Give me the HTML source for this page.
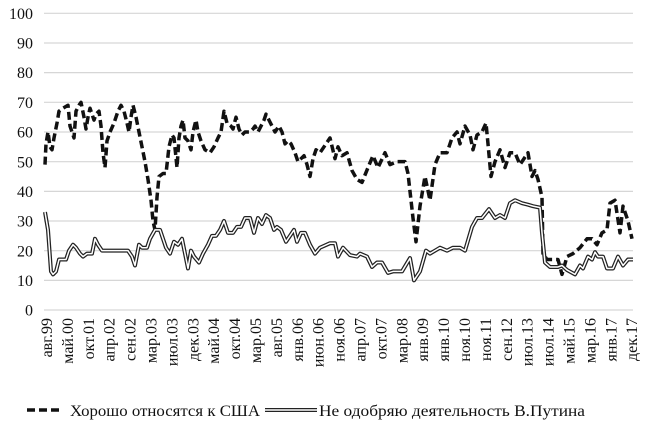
<!DOCTYPE html>
<html><head><meta charset="utf-8"><style>
html,body{margin:0;padding:0;background:#fff;}
svg{display:block;}
</style></head><body>
<svg width="650" height="429" viewBox="0 0 650 429" xmlns="http://www.w3.org/2000/svg" font-family="'Liberation Serif','Times New Roman',serif">
<g stroke="#d6d6d6" stroke-width="1.2">
<line x1="44" x2="633" y1="13.3" y2="13.3"/>
<line x1="44" x2="633" y1="43" y2="43"/>
<line x1="44" x2="633" y1="72.6" y2="72.6"/>
<line x1="44" x2="633" y1="102.3" y2="102.3"/>
<line x1="44" x2="633" y1="132" y2="132"/>
<line x1="44" x2="633" y1="161.7" y2="161.7"/>
<line x1="44" x2="633" y1="191.4" y2="191.4"/>
<line x1="44" x2="633" y1="221" y2="221"/>
<line x1="44" x2="633" y1="250.7" y2="250.7"/>
<line x1="44" x2="633" y1="280.4" y2="280.4"/>
<line x1="44" x2="633" y1="310" y2="310"/>
</g>
<g font-size="16" text-anchor="end" fill="#111" font-family="'Liberation Serif','Times New Roman',serif">
<text x="33" y="19">100</text><text x="33" y="48.5">90</text><text x="33" y="78.2">80</text>
<text x="33" y="107.9">70</text><text x="33" y="137.6">60</text><text x="33" y="167.3">50</text>
<text x="33" y="197">40</text><text x="33" y="226.6">30</text><text x="33" y="256.3">20</text>
<text x="33" y="286">10</text><text x="33" y="315.6">0</text>
</g>
<g font-size="16" text-anchor="end" fill="#111" font-family="'Liberation Serif','Times New Roman',serif">
<text transform="translate(52,318) rotate(-90)">авг.99</text>
<text transform="translate(72.9,318) rotate(-90)">май.00</text>
<text transform="translate(93.8,318) rotate(-90)">окт.01</text>
<text transform="translate(114.7,318) rotate(-90)">апр.02</text>
<text transform="translate(135.6,318) rotate(-90)">сен.02</text>
<text transform="translate(156.5,318) rotate(-90)">мар.03</text>
<text transform="translate(177.4,318) rotate(-90)">июл.03</text>
<text transform="translate(198.3,318) rotate(-90)">дек.03</text>
<text transform="translate(219.2,318) rotate(-90)">май.04</text>
<text transform="translate(240.1,318) rotate(-90)">окт.04</text>
<text transform="translate(261,318) rotate(-90)">мар.05</text>
<text transform="translate(281.9,318) rotate(-90)">авг.05</text>
<text transform="translate(302.8,318) rotate(-90)">янв.06</text>
<text transform="translate(323.7,318) rotate(-90)">июн.06</text>
<text transform="translate(344.6,318) rotate(-90)">ноя.06</text>
<text transform="translate(365.5,318) rotate(-90)">апр.07</text>
<text transform="translate(386.4,318) rotate(-90)">окт.07</text>
<text transform="translate(407.3,318) rotate(-90)">мар.08</text>
<text transform="translate(428.2,318) rotate(-90)">янв.09</text>
<text transform="translate(449.1,318) rotate(-90)">янв.10</text>
<text transform="translate(470,318) rotate(-90)">ноя.10</text>
<text transform="translate(490.9,318) rotate(-90)">ноя.11</text>
<text transform="translate(511.8,318) rotate(-90)">сен.12</text>
<text transform="translate(532.7,318) rotate(-90)">июл.13</text>
<text transform="translate(553.6,318) rotate(-90)">июл.14</text>
<text transform="translate(574.5,318) rotate(-90)">май.15</text>
<text transform="translate(595.4,318) rotate(-90)">мар.16</text>
<text transform="translate(616.3,318) rotate(-90)">янв.17</text>
<text transform="translate(637.2,318) rotate(-90)">дек.17</text>
</g>
<g transform="translate(0,310) scale(1,-2.967)" fill="none" stroke-linejoin="round">
<polyline vector-effect="non-scaling-stroke" stroke="#111" stroke-width="3.5" stroke-dasharray="8,4" points="45,49 46,56 48,60 50,55 52,54 54,58 57,63 59,67 63,68 68,69 70,62 74,58 76,67 79,69 81,70 84,65 86,61 88,65 90,68 92,66 94,64 96,66 99,67 101,62 103,53 105,48 107,57 110,60 114,63 118,67 121,69 124,67 127,63 129,60 131,65 133,69 136,65 139,60 142,55 145,50 148,44 151,37 153,30 155,27 157,38 159,45 163,46 166,46 169,55 172,59 174,58 177,48 179,58 181,62 183,64 185,58 188,57 191,54 193,60 196,64 198,60 201,57 205,54 210,53 214,55 218,58 221,60 224,67 227,63 231,62 233,61 236,65 239,61 242,59 245,60 250,60 253,61 255,62 258,60 261,62 264,64 266,66 269,64 272,62 275,60 279,62 282,60 285,56 288,57 291,56 295,53 298,50 301,51 304,52 307,49 310,45 313,51 316,54 320,53 330,58 335,51 338,55 342,52 347,53 352,47 357,44 362,43 368,48 373,52 378,48 385,53 390,49 397,50 405,50 408,46 413,31 416,23 420,35 425,45 430,37 435,49 440,53 447,53 452,58 457,60 460,56 465,62 470,59 473,54 477,59 482,60 486,63 488,56 491,45 495,50 500,54 505,48 510,53 515,53 520,49 528,53 532,45 535,47 538,44 542,38 543,19 547,17 553,17 558,17 562,12 567,18 573,19 580,21 587,24 592,24 597,22 602,26 607,27 610,36 615,37 620,26 623,35 628,30 632,24"/>
<polyline vector-effect="non-scaling-stroke" stroke="#222" stroke-width="4" points="45,33 48,27 51,13 53,12 56,13 59,17 66,17 69,20 73,22 76,21 80,19 83,18 87,19 92,19 95,24 98,22 102,20 128,20 132,18 135,15 139,22 142,21 147,21 150,24 155,27 160,27 163,24 166,21 170,19 174,23 178,22 182,24 185,19 188,14 191,20 194,18 199,16 203,19 208,22 212,25 216,25 220,27 224,30 228,26 233,26 237,28 241,28 245,31 250,31 254,26 258,31 262,29 266,32 270,31 274,27 277,28 281,27 286,23 290,25 294,27 297,23 301,26 305,26 310,22 315,19 320,21 330,22.5 335,22.5 338,18 343,21 350,18.5 357,18 360,19 367,18 372,14.5 377,16 382,16 388,12.5 393,13 402,13 410,17.5 414,10 420,13 426,20 430,19 435,20 440,21 447,20 453,21 460,21 465,20 472,28 477,31 482,31 489,34 495,31 500,32 505,31 510,36 515,37 522,36 528,35.5 533,35 540,34.5 542,26 545,16 550,14.5 558,14.5 562,15 567,13.5 575,12 580,15 583,14 588,18 592,17 595,19.5 598,18 603,18 607,14 613,14 618,18 623,15 628,17 633,17"/>
<polyline vector-effect="non-scaling-stroke" stroke="#fff" stroke-width="1.5" points="45,33 48,27 51,13 53,12 56,13 59,17 66,17 69,20 73,22 76,21 80,19 83,18 87,19 92,19 95,24 98,22 102,20 128,20 132,18 135,15 139,22 142,21 147,21 150,24 155,27 160,27 163,24 166,21 170,19 174,23 178,22 182,24 185,19 188,14 191,20 194,18 199,16 203,19 208,22 212,25 216,25 220,27 224,30 228,26 233,26 237,28 241,28 245,31 250,31 254,26 258,31 262,29 266,32 270,31 274,27 277,28 281,27 286,23 290,25 294,27 297,23 301,26 305,26 310,22 315,19 320,21 330,22.5 335,22.5 338,18 343,21 350,18.5 357,18 360,19 367,18 372,14.5 377,16 382,16 388,12.5 393,13 402,13 410,17.5 414,10 420,13 426,20 430,19 435,20 440,21 447,20 453,21 460,21 465,20 472,28 477,31 482,31 489,34 495,31 500,32 505,31 510,36 515,37 522,36 528,35.5 533,35 540,34.5 542,26 545,16 550,14.5 558,14.5 562,15 567,13.5 575,12 580,15 583,14 588,18 592,17 595,19.5 598,18 603,18 607,14 613,14 618,18 623,15 628,17 633,17"/>
</g>
<line x1="27" y1="410" x2="63" y2="410" stroke="#111" stroke-width="3.5" stroke-dasharray="8,4"/>
<text x="70" y="416" font-size="16" fill="#111" textLength="190" lengthAdjust="spacingAndGlyphs" font-family="'Liberation Serif','Times New Roman',serif">Хорошо относятся к США</text>
<line x1="265" y1="410" x2="317" y2="410" stroke="#222" stroke-width="4"/>
<line x1="265" y1="410" x2="317" y2="410" stroke="#fff" stroke-width="1.5"/>
<text x="319" y="416" font-size="16" fill="#111" textLength="266" lengthAdjust="spacingAndGlyphs" font-family="'Liberation Serif','Times New Roman',serif">Не одобряю деятельность В.Путина</text>
</svg>
</body></html>
